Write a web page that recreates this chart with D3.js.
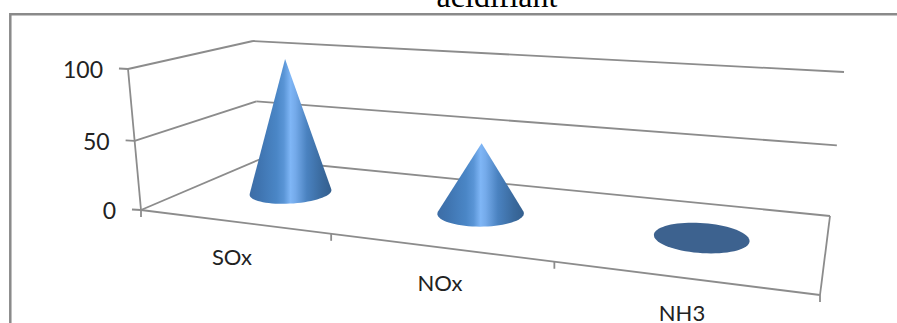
<!DOCTYPE html>
<html>
<head>
<meta charset="utf-8">
<style>
  html, body { margin: 0; padding: 0; background: #fff; overflow: hidden; }
  svg { display: block; }
</style>
<script src="https://cdn.jsdelivr.net/npm/d3@7"></script>
</head>
<body>
<svg id="chart" width="897" height="323"></svg>
<script>
const titleText = "acidifiant";
const categories = ["SOx", "NOx", "NH3"];
const values = [100, 50, 0];
const valueTicks = [0, 50, 100];

const svg = d3.select("#chart");
const gridColor = "#8c8c8c";

// Projected corners of the 3D box: floor (value 0) and ceiling (value 100)
const floorCorners = { fl: [141, 210], fr: [820, 295], br: [830, 216], bl: [259.5, 159.5] };
const ceilCorners  = { fl: [128, 69],  fr: [837, 116], br: [844, 72],  bl: [253, 41] };

// Maps the unit square onto a quadrilateral with a perspective transform
function homography(q) {
  const [x0, y0] = q.bl, [x1, y1] = q.br, [x2, y2] = q.fr, [x3, y3] = q.fl;
  const dx1 = x1 - x2, dx2 = x3 - x2, sx = x0 - x1 + x2 - x3;
  const dy1 = y1 - y2, dy2 = y3 - y2, sy = y0 - y1 + y2 - y3;
  const det = dx1 * dy2 - dx2 * dy1;
  const g = (sx * dy2 - dx2 * sy) / det;
  const h = (dx1 * sy - sx * dy1) / det;
  const a = x1 - x0 + g * x1, b = x3 - x0 + h * x3, c = x0;
  const d = y1 - y0 + g * y1, e = y3 - y0 + h * y3, f = y0;
  return (u, v) => {
    const w = g * u + h * v + 1;
    return [(a * u + b * v + c) / w, (d * u + e * v + f) / w];
  };
}

const floorAt = homography(floorCorners);
const ceilAt = homography(ceilCorners);
// Perspective pulls the midpoint of the value axis slightly toward the floor
const valueScale = d3.scaleLinear().domain([0, 50, 100]).range([0, 0.49, 1]);
const catScale = d3.scaleBand().domain(categories).range([0, 1]);

// u runs left to right, v runs back (0) to front (1)
function project(u, v, value) {
  const t = valueScale(value);
  const p = floorAt(u, v), q = ceilAt(u, v);
  return [p[0] + (q[0] - p[0]) * t, p[1] + (q[1] - p[1]) * t];
}

const openLine = d3.line();
const closedLine = d3.line().curve(d3.curveLinearClosed);
function seg(a, b) {
  svg.append("path").attr("d", openLine([a, b]))
    .attr("fill", "none").attr("stroke", gridColor).attr("stroke-width", 1.8);
}

// Chart frame, running off the right and bottom of the page
svg.append("path").attr("d", openLine([[10.3, 323], [10.3, 14.3], [897, 14.3]]))
  .attr("fill", "none").attr("stroke", "#8a8a8a").attr("stroke-width", 2.5);

// Title, cut by the top of the page
svg.append("text").text(titleText)
  .attr("x", 497).attr("y", 7).attr("text-anchor", "middle")
  .attr("font-family", "'Liberation Serif', serif").attr("font-size", 32).attr("fill", "#000");

// Gridlines on the back and side walls
valueTicks.forEach(t => {
  seg(project(0, 1, t), project(0, 0, t));
  seg(project(0, 0, t), project(1, 0, t));
  const a = project(0, 1, t);
  seg([a[0] - 9, a[1] - 0.5], a);
});

// Value axis, front-left edge, and right edge of the floor
seg(project(0, 1, 0), project(0, 1, 100));
seg(project(0, 1, 0), project(1, 1, 0));
seg(project(1, 1, 0), project(1, 0, 0));

// Category ticks under the front edge
d3.range(categories.length + 1).forEach(i => {
  const p = project(i / categories.length, 1, 0);
  seg(p, [p[0], p[1] + 7]);
});

const tickFont = "Lato, 'Open Sans', sans-serif";
valueTicks.forEach(t => {
  const a = project(0, 1, t);
  svg.append("text").text(t)
    .attr("x", a[0] - 25).attr("y", a[1] + 9).attr("text-anchor", "end")
    .attr("font-family", tickFont).attr("font-size", 23).attr("fill", "#222");
});

const labelPos = [[232, 265], [440, 291], [682, 321]];
categories.forEach((c, i) => {
  svg.append("text").text(c)
    .attr("x", labelPos[i][0]).attr("y", labelPos[i][1]).attr("text-anchor", "middle")
    .attr("font-family", tickFont).attr("font-size", 22).attr("fill", "#222");
});

// Cone shading, dark at the rim with a bright band at the centre
const defs = svg.append("defs");
const stops = [[0, "#3d6da6"], [0.12, "#3f74b0"], [0.33, "#4a86c6"], [0.42, "#5a95d6"], [0.5, "#7fb6f6"],
               [0.56, "#74aaea"], [0.7, "#4a82c0"], [0.88, "#3a6a9e"], [1, "#345f8e"]];

const radiusU = 0.066, radiusV = 0.20;
categories.forEach((c, i) => {
  const u = catScale(c) + catScale.bandwidth() / 2, v = 0.5;
  const circle = d3.range(0, 72).map(k => {
    const a = k / 72 * 2 * Math.PI;
    return project(u + radiusU * Math.cos(a), v + radiusV * Math.sin(a), 0);
  });
  const apex = project(u, v, values[i]);
  if (values[i] > 0) {
    const xs = circle.map(d => d[0]);
    const id = "cone" + i;
    const grad = defs.append("linearGradient").attr("id", id)
      .attr("gradientUnits", "userSpaceOnUse")
      .attr("x1", d3.min(xs)).attr("x2", d3.max(xs)).attr("y1", 0).attr("y2", 0);
    stops.forEach(s => grad.append("stop").attr("offset", s[0]).attr("stop-color", s[1]));
    const hull = d3.polygonHull(circle.concat([apex]));
    svg.append("path").attr("d", closedLine(hull)).attr("fill", `url(#${id})`);
  } else {
    svg.append("path").attr("d", closedLine(circle)).attr("fill", "#3d628f");
  }
});
</script>
</body>
</html>
